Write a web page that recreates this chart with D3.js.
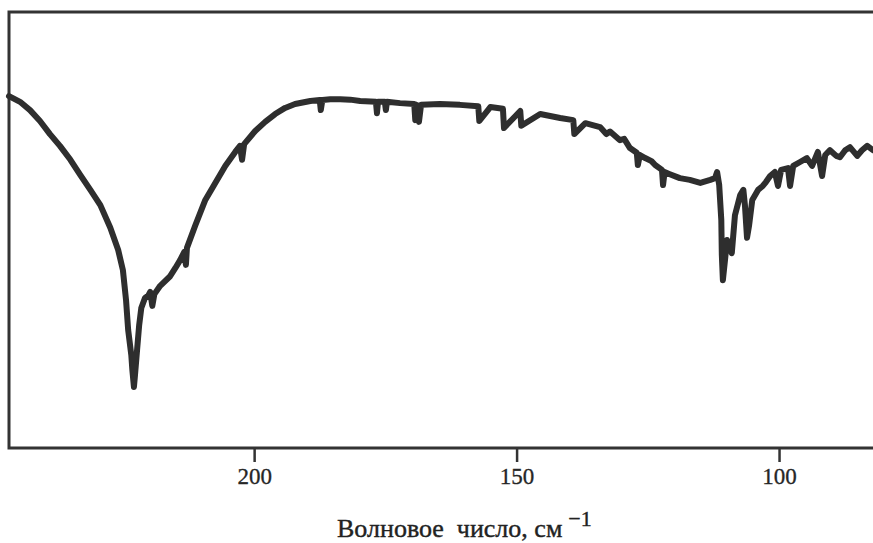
<!DOCTYPE html>
<html>
<head>
<meta charset="utf-8">
<script src="https://cdn.jsdelivr.net/npm/d3@7"></script>
<style>
  body { margin: 0; background: #fff; }
</style>
</head>
<body>
<div id="chart"></div>
<script>
// wavenumber, cm-1
const wavenumber = [
  246.7, 244.6, 242.7, 240.8, 238.9, 237.0, 235.0, 233.1, 231.2, 229.3,
  227.4, 225.9, 225.0, 224.4, 224.0, 223.4, 223.2, 222.9, 222.7, 222.3,
  221.9, 221.5, 220.8, 220.2, 219.8, 219.4, 219.0, 217.9, 216.0, 215.0,
  214.1, 213.3, 213.0, 212.8, 211.2, 209.3, 207.4, 205.5, 203.6, 202.7,
  202.3, 201.9, 199.8, 197.9, 196.0, 194.1, 192.2, 189.3, 187.5, 187.3,
  187.0, 185.5, 183.6, 181.7, 179.8, 176.8, 176.6, 176.4, 175.1, 174.9,
  174.7, 172.2, 169.5, 169.3, 169.0, 168.6, 168.2, 164.6, 160.8, 157.3,
  157.1, 155.0, 152.6, 152.4, 149.3, 149.1, 145.5, 141.7, 139.2, 139.0,
  136.9, 134.1, 132.9, 132.2, 130.3, 129.5, 128.4, 127.1, 126.9, 126.5,
  125.5, 124.3, 123.6, 122.3, 122.1, 121.8, 120.8, 118.9, 117.0, 115.0,
  113.1, 112.2, 111.8, 111.4, 111.0, 110.9, 110.7, 110.3, 109.9, 109.0,
  108.4, 107.4, 106.8, 106.5, 106.1, 105.7, 105.1, 104.0, 103.1, 102.5,
  101.7, 100.8, 100.2, 99.6, 98.3, 97.9, 97.3, 96.0, 94.7, 93.7,
  92.6, 91.8, 91.2, 90.3, 89.1, 88.4, 87.4, 86.5, 85.1, 84.2,
  83.2, 82.1
];

// transmittance, arbitrary %
const transmittance = [
  80.7, 79.4, 77.5, 75.0, 72.0, 69.3, 66.1, 62.6, 59.2, 55.7,
  50.5, 45.4, 40.8, 33.9, 27.1, 21.3, 17.9, 14.0, 16.7, 22.5,
  28.2, 32.1, 34.4, 34.9, 35.8, 32.6, 35.3, 37.2, 39.4, 41.3,
  43.1, 45.0, 42.0, 45.9, 51.1, 56.9, 60.8, 64.7, 67.9, 69.3,
  66.1, 69.7, 72.7, 74.8, 76.6, 78.0, 78.9, 79.6, 79.8, 77.5,
  79.8, 80.0, 80.0, 79.9, 79.6, 79.4, 76.8, 79.4, 79.4, 77.5,
  79.4, 79.1, 78.9, 75.2, 78.7, 74.8, 78.7, 78.9, 78.7, 78.4,
  75.0, 78.2, 77.8, 73.4, 77.3, 73.9, 76.6, 75.7, 75.2, 72.0,
  74.5, 73.6, 72.0, 72.6, 70.6, 70.9, 68.8, 67.7, 64.9, 67.2,
  66.5, 65.8, 64.9, 63.8, 60.3, 63.3, 62.8, 61.9, 61.5, 60.8,
  61.5, 61.9, 63.3, 60.3, 52.3, 44.3, 38.5, 43.1, 47.7, 44.7,
  53.4, 58.0, 59.2, 55.7, 48.2, 51.1, 56.9, 59.2, 60.1, 61.0,
  62.4, 63.3, 60.1, 63.8, 64.2, 60.1, 64.7, 65.6, 66.5, 64.7,
  67.9, 62.4, 67.2, 68.3, 67.0, 66.7, 68.3, 69.0, 67.0, 68.3,
  69.3, 68.3
];

const xTicks = [200, 150, 100];
const xTitle = "Волновое  число, см";

const data = wavenumber.map((w, i) => ({ w: w, t: transmittance[i] }));

const width = 873, height = 543;
const plotLeft = 9, plotTop = 12, plotBottom = 448, plotRight = 880;
const serif = "'Liberation Serif', 'Times New Roman', serif";

const svg = d3.select("#chart")
  .append("svg")
  .attr("width", width)
  .attr("height", height)
  .attr("font-family", serif);

// reversed wavenumber axis: 200 -> 254px, 100 -> 779px
let x = d3.scaleLinear().domain([246.7, 82.1]).range([plotLeft, 873]);
let y = d3.scaleLinear().domain([0, 100]).range([plotBottom, plotTop]);

// frame (right side runs off the picture)
svg.append("path")
  .attr("d", "M" + plotRight + "," + plotTop + "H" + plotLeft + "V" + plotBottom + "H" + plotRight)
  .style("fill", "none")
  .style("stroke", "#333")
  .style("stroke-width", 3);

let xAxis = d3.axisBottom(x)
  .tickValues(xTicks)
  .tickSize(14)
  .tickPadding(6)
  .tickFormat(d3.format("d"));

let gx = svg.append("g")
  .attr("transform", "translate(0," + plotBottom + ")")
  .call(xAxis)
  .attr("font-family", serif)
  .attr("font-size", 23);

gx.select(".domain").remove();
gx.selectAll(".tick line")
  .style("stroke", "#333")
  .style("stroke-width", 2.5);
gx.selectAll(".tick text")
  .attr("fill", "#262626")
  .attr("stroke", "#262626")
  .attr("stroke-width", 0.3);

let line = d3.line()
  .x(d => x(d.w))
  .y(d => y(d.t));

svg.append("path")
  .datum(data)
  .attr("d", line)
  .style("fill", "none")
  .style("stroke", "#2e2e2e")
  .style("stroke-width", 6)
  .style("stroke-linejoin", "round")
  .style("stroke-linecap", "round");

let title = svg.append("text")
  .attr("x", 337)
  .attr("y", 537)
  .attr("font-family", serif)
  .attr("font-size", 26)
  .attr("fill", "#222")
  .attr("stroke", "#222")
  .attr("stroke-width", 0.4)
  .style("white-space", "pre")
  .attr("xml:space", "preserve");

title.append("tspan").text(xTitle);
title.append("tspan")
  .attr("dx", 6)
  .attr("dy", -11)
  .attr("font-size", 22)
  .text("\u22121");
</script>
</body>
</html>
